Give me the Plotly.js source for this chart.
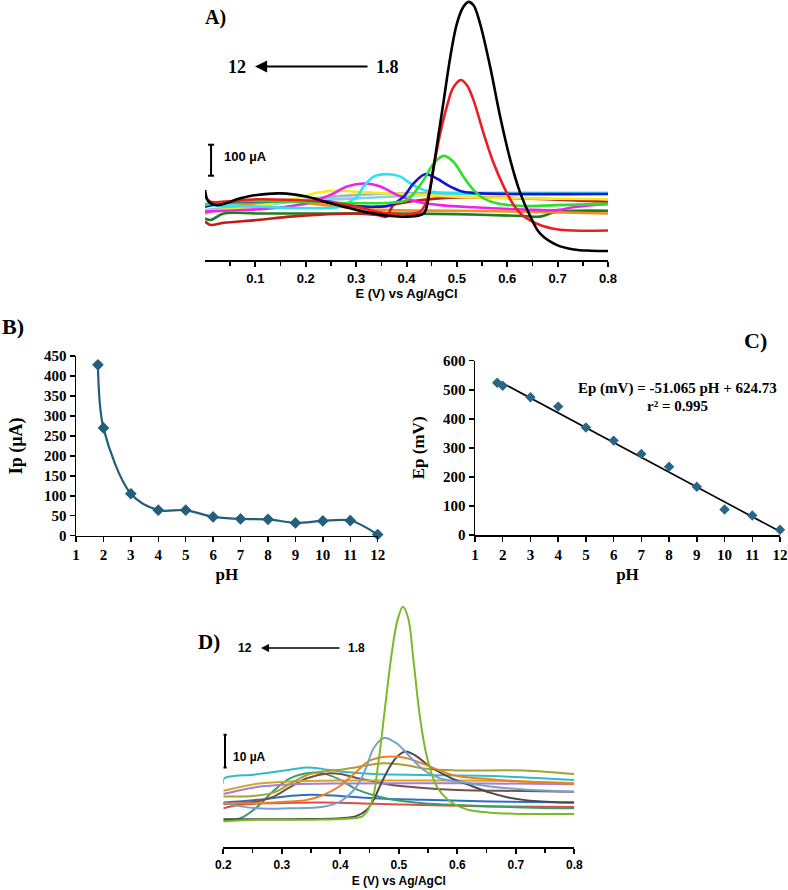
<!DOCTYPE html>
<html><head><meta charset="utf-8">
<script src="https://cdn.plot.ly/plotly-3.0.1.min.js"></script>
<style>html,body{margin:0;padding:0;background:#fff}#plot{width:788px;height:890px}</style>
</head><body><div id="plot"></div>
<script>
// ---------- Panel A : DPV curves (E in V, I in µA, offset arbitrary) ----------
const phOrder = ['1.8','2','3','4','5','6','7','8','9','10','11','12'];
const aE1 = [0.0,0.007,0.024,0.07,0.103,0.15,0.203,0.249,0.302,0.341,0.368,0.401,0.434,0.444,0.454,0.464,0.474,0.487,0.5,0.513,0.523,0.533,0.546,0.566,0.586,0.606,0.626,0.646,0.665,0.699,0.732,0.765,0.8];
const aI1 = [226,188,177,199,210,215,204,183,161,148,142,140,150,204,301,409,516,656,763,817,833,822,763,624,462,323,215,140,86,48,34,30,29];
const aE2 = [0.0,0.011,0.037,0.103,0.169,0.236,0.302,0.341,0.368,0.401,0.427,0.441,0.454,0.467,0.48,0.493,0.508,0.52,0.533,0.553,0.573,0.593,0.613,0.632,0.665,0.699,0.732,0.8];
const aI2 = [204,188,188,196,194,188,172,156,150,148,156,194,301,409,495,557,581,564,516,409,312,237,177,142,113,99,95,95];
const aE3 = [0.0,0.037,0.169,0.302,0.368,0.401,0.434,0.454,0.474,0.493,0.513,0.533,0.553,0.579,0.632,0.699,0.8];
const aI3 = [177,188,188,183,185,194,258,312,336,317,269,226,199,183,174,177,181];
const aE4 = [0.0,0.037,0.169,0.249,0.282,0.335,0.368,0.394,0.414,0.437,0.46,0.487,0.513,0.546,0.8];
const aI4 = [172,185,188,188,177,172,177,204,247,277,263,237,220,215,213];
const aE5 = [0.0,0.103,0.203,0.269,0.282,0.295,0.302,0.315,0.335,0.361,0.388,0.408,0.434,0.467,0.5,0.8];
const aI5 = [177,172,167,172,183,196,204,237,269,277,269,247,226,217,215,215];
const aE6 = [0.0,0.037,0.136,0.203,0.249,0.282,0.318,0.348,0.381,0.421,0.467,0.533,0.632,0.699,0.738,0.8];
const aI6 = [156,159,167,183,210,237,247,237,210,188,177,170,163,161,172,181];
const aE7 = [0.0,0.07,0.136,0.183,0.222,0.269,0.302,0.368,0.5,0.632,0.8];
const aI7 = [158,167,183,199,217,224,220,215,204,199,196];
const aE8 = [0.0,0.037,0.103,0.169,0.236,0.302,0.368,0.5,0.8];
const aI8 = [161,167,174,188,202,210,215,217,217];
const aE9 = [0.0,0.011,0.037,0.103,0.169,0.236,0.302,0.341,0.361,0.368,0.374,0.394,0.434,0.5,0.632,0.8];
const aI9 = [124,113,120,129,140,147,150,145,140,161,177,185,194,202,199,188];
const aE10 = [0.0,0.037,0.103,0.169,0.236,0.302,0.368,0.5,0.632,0.8];
const aI10 = [150,167,183,188,177,167,161,159,156,150];
const aE11 = [0.0,0.011,0.037,0.103,0.236,0.368,0.5,0.632,0.665,0.685,0.699,0.8];
const aI11 = [134,129,150,150,150,150,148,142,140,150,156,159];
const aE12 = [0.0,0.1,0.3,0.5,0.8];
const aI12 = [181,185,199,213,215];
const aScaleBar = [272, 372]; // 100 µA bar

// ---------- Panel B : Ip vs pH ----------
const pH = [1.8,2,3,4,5,6,7,8,9,10,11,12];
const Ip = [428,270,105,64,64,47,42,41,32,37,38,3];

// ---------- Panel C : Ep vs pH ----------
const Ep = [524,514,474,442,370,325,279,235,166,88,67,18];
const fitSlope = -51.065, fitIntercept = 624.73;
const fitX = [1.8, 12];

// ---------- Panel D : DPV curves ----------
const dE1 = [0.2,0.257,0.314,0.371,0.417,0.439,0.454,0.465,0.476,0.488,0.498,0.507,0.516,0.525,0.536,0.548,0.565,0.588,0.616,0.656,0.713,0.8];
const dI1 = [7.9,8.4,8.4,8.5,8.8,9.6,14.0,25.7,42.0,59.4,69.6,73.5,70.1,57.3,40.0,27.7,18.6,14.0,11.6,10.6,10.2,10.2];
const dE2 = [0.2,0.257,0.314,0.371,0.4,0.428,0.445,0.457,0.475,0.496,0.519,0.542,0.57,0.6,0.656,0.713,0.8];
const dI2 = [13.5,11.9,11.9,12.4,14.0,18.6,24.7,30.3,33.4,31.8,27.7,23.7,21.1,20.1,18.6,17.7,17.0];
const dE3 = [0.2,0.257,0.314,0.343,0.371,0.4,0.428,0.45,0.479,0.51,0.542,0.57,0.6,0.656,0.713,0.8];
const dI3 = [13.5,13.5,14.0,14.5,16.0,18.8,23.2,26.5,27.7,27.4,25.5,23.5,21.8,20.8,20.1,19.4];
const dE4 = [0.2,0.314,0.4,0.428,0.445,0.457,0.47,0.485,0.496,0.511,0.53,0.553,0.587,0.627,0.656,0.685,0.713,0.77,0.8];
const dI4 = [8.6,8.6,8.9,9.6,11.4,14.5,19.6,24.7,27.5,29.3,27.9,24.7,21.4,18.6,16.7,15.3,14.5,13.8,13.7];
const dE5 = [0.2,0.257,0.286,0.314,0.343,0.371,0.4,0.428,0.474,0.513,0.542,0.6,0.713,0.8];
const dI5 = [15.5,15.8,16.7,19.4,22.1,23.2,23.7,24.5,25.7,25.1,24.1,23.5,23.5,22.4];
const dE6 = [0.2,0.201,0.257,0.314,0.343,0.371,0.4,0.457,0.542,0.656,0.8];
const dI6 = [19.4,21.0,22.3,23.7,24.4,23.9,23.2,22.4,22.1,21.8,20.6];
const dE7 = [0.2,0.257,0.314,0.4,0.6,0.7,0.8];
const dI7 = [17.3,19.4,20.1,20.4,20.4,20.2,19.6];
const dE8 = [0.2,0.257,0.314,0.4,0.6,0.8];
const dI8 = [16.3,18.4,19.2,19.5,19.6,19.3];
const dE9 = [0.2,0.257,0.286,0.314,0.343,0.382,0.4,0.428,0.457,0.485,0.542,0.6,0.713,0.8];
const dI9 = [13.2,14.0,15.5,18.4,21.1,22.6,22.4,21.2,20.1,19.1,18.1,17.5,17.2,17.0];
const dE10 = [0.2,0.229,0.257,0.286,0.314,0.35,0.371,0.4,0.428,0.457,0.485,0.542,0.6,0.713,0.8];
const dI10 = [8.4,8.9,12.2,17.3,21.1,22.8,22.6,20.6,17.7,15.9,14.7,13.5,12.9,12.2,11.9];
const dE11 = [0.2,0.257,0.314,0.35,0.4,0.457,0.542,0.656,0.8];
const dI11 = [13.7,14.5,15.7,16.1,15.7,15.0,14.5,14.0,13.7];
const dE12 = [0.2,0.229,0.286,0.371,0.457,0.542,0.656,0.8];
const dI12 = [11.9,13.0,13.5,13.7,13.3,12.9,12.5,12.3];
const dScaleBar = [24.4, 34.4]; // 10 µA bar

// ---------- styles ----------
const aSeries = [[aE1,aI1],[aE2,aI2],[aE3,aI3],[aE4,aI4],[aE5,aI5],[aE6,aI6],[aE7,aI7],[aE8,aI8],[aE9,aI9],[aE10,aI10],[aE11,aI11],[aE12,aI12]];
const aColors = ['#000000','#EE1C24','#2BE02B','#1414D2','#2AE4F2','#EE22EE','#F2EE1E','#A9B6C2','#C41A1A','#F39020','#1E7E1E','#8CCBEE'];
const dSeries = [[dE1,dI1],[dE2,dI2],[dE3,dI3],[dE4,dI4],[dE5,dI5],[dE6,dI6],[dE7,dI7],[dE8,dI8],[dE9,dI9],[dE10,dI10],[dE11,dI11],[dE12,dI12]];
const dColors = ['#7AB92A','#76A1CF','#F0801F','#4A4A4A','#A5A133','#2EBCC6','#D0A530','#A97DCC','#7B4E48','#3A9D6E','#2F6FC2','#DF4D47'];
const markerBlue = '#235E7C';

const serif = 'Liberation Serif, Times New Roman, serif';
const sans = 'Liberation Sans, Arial, sans-serif';

const traces = [];
for (let i = aSeries.length - 1; i >= 0; i--) {
  traces.push({x: aSeries[i][0], y: aSeries[i][1], xaxis:'x', yaxis:'y', mode:'lines', name:'pH '+phOrder[i],
    line:{color:aColors[i], width:2.6, shape:'spline', smoothing:1}, hoverinfo:'skip', showlegend:false});
}
traces.push({x: pH, y: Ip, xaxis:'x2', yaxis:'y2', mode:'lines+markers', cliponaxis:false,
  line:{color:markerBlue, width:2.2, shape:'spline', smoothing:0.9},
  marker:{symbol:'diamond', size:9, color:markerBlue}, showlegend:false});
traces.push({x: fitX, y: fitX.map(v => fitSlope*v + fitIntercept), xaxis:'x3', yaxis:'y3', mode:'lines',
  line:{color:'#000', width:1.6}, showlegend:false});
traces.push({x: pH, y: Ep, xaxis:'x3', yaxis:'y3', mode:'markers', cliponaxis:false,
  marker:{symbol:'diamond', size:8, color:'#2A6688'}, showlegend:false});
for (let i = dSeries.length - 1; i >= 0; i--) {
  traces.push({x: dSeries[i][0], y: dSeries[i][1], xaxis:'x4', yaxis:'y4', mode:'lines', name:'pH '+phOrder[i],
    line:{color:dColors[i], width:2, shape:'spline', smoothing:1}, hoverinfo:'skip', showlegend:false});
}

const W = 788, H = 890;
const px = v => v / W, py = v => 1 - v / H;

const cvAxis = (size, extra) => Object.assign({
  showline:true, linecolor:'#000', linewidth:2, showgrid:false, zeroline:false,
  ticks:'outside', ticklen:5, tickwidth:2, tickcolor:'#000',
  tickfont:{family:sans, size:size, color:'#000', weight:'bold'}
}, extra);
const phAxis = (extra) => Object.assign({
  showline:true, linecolor:'#000', linewidth:1.5, showgrid:false, zeroline:false,
  ticks:'outside', ticklen:5, tickwidth:1.5, tickcolor:'#000',
  tickfont:{family:serif, size:15, color:'#000', weight:'bold'}
}, extra);
const txt = (x, y, text, font, xa) => ({xref:'paper', yref:'paper', x:px(x), y:py(y), text:text, showarrow:false,
  xanchor: xa || 'center', yanchor:'middle', font:font});

const layout = {
  width: W, height: H, margin:{l:0, r:0, t:0, b:0},
  paper_bgcolor:'#fff', plot_bgcolor:'rgba(0,0,0,0)', showlegend:false,
  xaxis: cvAxis(13, {domain:[px(205), px(608)], anchor:'y', range:[0,0.8],
    tickmode:'array', tickvals:[0.1,0.2,0.3,0.4,0.5,0.6,0.7,0.8], ticktext:['0.1','0.2','0.3','0.4','0.5','0.6','0.7','0.8'],
    minor:{tickmode:'array', tickvals:[0.05,0.15,0.25,0.35,0.45,0.55,0.65,0.75], ticks:'outside', ticklen:4, tickwidth:1.5, tickcolor:'#000'},
    title:{text:'E (V) vs Ag/AgCl', font:{family:sans, size:13, color:'#000', weight:'bold'}, standoff:1}}),
  yaxis: {domain:[py(260), 1], anchor:'x', range:[0, 839], visible:false},

  xaxis2: phAxis({domain:[px(76), px(377.7)], anchor:'y2', range:[1,12], tickmode:'linear', tick0:1, dtick:1,
    title:{text:'pH', font:{family:serif, size:17, color:'#000', weight:'bold'}, standoff:6}}),
  yaxis2: phAxis({domain:[py(535.7), py(356)], anchor:'x2', range:[0,450], tickmode:'linear', tick0:0, dtick:50,
    title:{text:'Ip (µA)', font:{family:serif, size:18, color:'#000', weight:'bold'}, standoff:16}}),

  xaxis3: phAxis({domain:[px(475), px(780)], anchor:'y3', range:[1,12], tickmode:'linear', tick0:1, dtick:1,
    title:{text:'pH', font:{family:serif, size:17, color:'#000', weight:'bold'}, standoff:6}}),
  yaxis3: phAxis({domain:[py(535), py(360.7)], anchor:'x3', range:[0,600], tickmode:'linear', tick0:0, dtick:100,
    title:{text:'Ep (mV)', font:{family:serif, size:17, color:'#000', weight:'bold'}, standoff:14}}),

  xaxis4: cvAxis(12, {domain:[px(223.3), px(574.3)], anchor:'y4', range:[0.2,0.8],
    tickmode:'array', tickvals:[0.2,0.3,0.4,0.5,0.6,0.7,0.8], ticktext:['0.2','0.3','0.4','0.5','0.6','0.7','0.8'],
    minor:{tickmode:'array', tickvals:[0.25,0.35,0.45,0.55,0.65,0.75], ticks:'outside', ticklen:4, tickwidth:1.5, tickcolor:'#000'},
    title:{text:'E (V) vs Ag/AgCl', font:{family:sans, size:12, color:'#000', weight:'bold'}, standoff:6}}),
  yaxis4: {domain:[py(847.3), py(600)], anchor:'x4', range:[0, 75.6], visible:false},

  shapes: [
    {type:'line', xref:'x', yref:'y', x0:0.012, x1:0.012, y0:aScaleBar[0], y1:aScaleBar[1], line:{color:'#000', width:2}},
    {type:'line', xref:'x', yref:'y', x0:0.006, x1:0.018, y0:aScaleBar[0], y1:aScaleBar[0], line:{color:'#000', width:2}},
    {type:'line', xref:'x', yref:'y', x0:0.006, x1:0.018, y0:aScaleBar[1], y1:aScaleBar[1], line:{color:'#000', width:2}},
    {type:'line', xref:'x4', yref:'y4', x0:0.2029, x1:0.2029, y0:dScaleBar[0], y1:dScaleBar[1], line:{color:'#000', width:2}},
    {type:'line', xref:'x4', yref:'y4', x0:0.2, x1:0.2058, y0:dScaleBar[0], y1:dScaleBar[0], line:{color:'#000', width:2}},
    {type:'line', xref:'x4', yref:'y4', x0:0.2, x1:0.2058, y0:dScaleBar[1], y1:dScaleBar[1], line:{color:'#000', width:2}}
  ],
  annotations: [
    // Panel A
    txt(215, 18, '<b>A)</b>', {family:serif, size:20, color:'#000'}),
    txt(237, 67, '<b>12</b>', {family:serif, size:18, color:'#000'}),
    txt(387, 67, '<b>1.8</b>', {family:serif, size:18, color:'#000'}),
    {xref:'paper', yref:'paper', x:px(255), y:py(66.5), ax:114, ay:0, text:'', showarrow:true, arrowhead:2, arrowsize:1.1, arrowwidth:2.2, arrowcolor:'#000'},
    txt(222, 157, '<b>100 µA</b>', {family:sans, size:13, color:'#000'}, 'left'),
    // Panel B
    txt(13, 326, '<b>B)</b>', {family:serif, size:22, color:'#000'}),
    // Panel C
    txt(755, 340, '<b>C)</b>', {family:serif, size:22, color:'#000'}),
    txt(677, 388, '<b>Ep (mV) = -51.065 pH + 624.73</b>', {family:serif, size:15, color:'#000'}),
    txt(677, 406, '<b>r² = 0.995</b>', {family:serif, size:15, color:'#000'}),
    // Panel D
    txt(209, 642, '<b>D)</b>', {family:serif, size:21, color:'#000'}),
    txt(245, 648, '<b>12</b>', {family:sans, size:12, color:'#000'}),
    txt(356, 648, '<b>1.8</b>', {family:sans, size:12, color:'#000'}),
    {xref:'paper', yref:'paper', x:px(261), y:py(648), ax:80, ay:0, text:'', showarrow:true, arrowhead:2, arrowsize:1, arrowwidth:1.6, arrowcolor:'#000'},
    txt(231, 757, '<b>10 µA</b>', {family:sans, size:12, color:'#000'}, 'left')
  ]
};

Plotly.newPlot('plot', traces, layout, {staticPlot:true, displayModeBar:false});
</script>
</body></html>
